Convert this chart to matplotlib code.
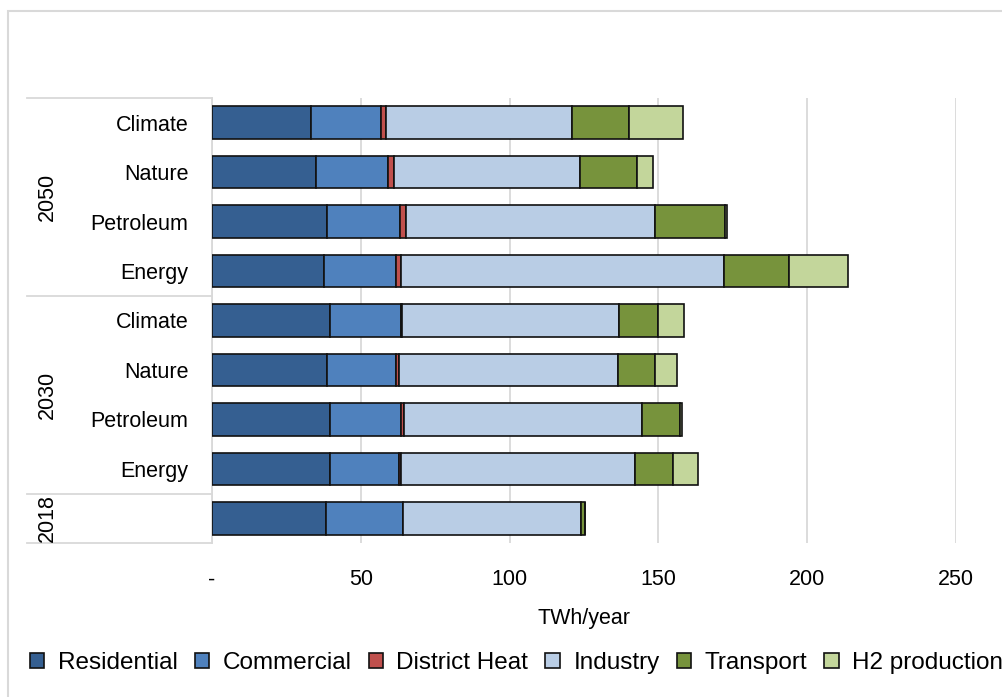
import numpy as np
import matplotlib
matplotlib.use('Agg')
import matplotlib.pyplot as plt
import matplotlib.transforms as mtransforms
from matplotlib.patches import Rectangle
from matplotlib.ticker import FuncFormatter

plt.rcParams['font.family'] = ['Liberation Sans', 'DejaVu Sans']

# rows from top to bottom
scenarios = ['Climate', 'Nature', 'Petroleum', 'Energy',
             'Climate', 'Nature', 'Petroleum', 'Energy', '']
years = ['2050', '2030', '2018']
year_rows = [(0, 3), (4, 7), (8, 8)]

sectors = ['Residential', 'Commercial', 'District Heat', 'Industry',
           'Transport', 'H2 production']
residential = [33.2, 35.0, 38.6, 37.5, 39.5, 38.7, 39.5, 39.5, 38.2]
commercial = [23.6, 24.2, 24.7, 24.2, 24.0, 23.0, 24.0, 23.5, 25.9]
district_heat = [1.8, 1.8, 2.0, 1.9, 0.4, 1.2, 1.1, 0.4, 0.1]
industry = [62.5, 62.5, 83.6, 108.6, 73.0, 73.6, 79.8, 78.7, 59.7]
transport = [19.1, 19.2, 23.6, 21.8, 13.0, 12.4, 12.9, 12.9, 1.5]
h2_production = [17.9, 5.6, 0.5, 19.7, 8.8, 7.4, 0.5, 8.2, 0.0]

series = [residential, commercial, district_heat, industry, transport, h2_production]
colors = ['#355f91', '#4f81bd', '#c0504d', '#b9cde5', '#77933c', '#c3d69b']

W, H = 1003, 697
fig = plt.figure(figsize=(W / 100, H / 100), dpi=100)
ax = fig.add_axes([212 / W, 1 - 543 / H, (956 - 212) / W, (543 - 98) / H])

y = np.arange(len(scenarios))
left = np.zeros(len(scenarios))
for name, vals, c in zip(sectors, series, colors):
    vals = np.array(vals)
    ax.barh(y, vals, left=left, height=0.66, color=c, edgecolor='#111111',
            linewidth=1.2, label=name, zorder=3)
    left += vals

ax.set_xlim(0, 250)
ax.set_ylim(len(scenarios) - 0.5, -0.5)
ax.set_xticks([0, 50, 100, 150, 200, 250])
ax.xaxis.set_major_formatter(FuncFormatter(lambda v, p: '-' if v == 0 else '%d' % v))
ax.grid(axis='x', color='#d9d9d9', linewidth=1.3, zorder=0)
ax.set_axisbelow(True)
for s in ['top', 'right', 'bottom']:
    ax.spines[s].set_visible(False)
ax.spines['left'].set_color('#d9d9d9')
ax.spines['left'].set_linewidth(1.3)

ax.set_yticks(y)
ax.set_yticklabels(scenarios)
ax.tick_params(axis='y', length=0, pad=17, labelsize=15.5)
ax.tick_params(axis='x', length=0, pad=19, labelsize=15.5)
ax.set_xlabel('TWh/year', fontsize=15.5, labelpad=13)

# multi level category axis
trans = mtransforms.blended_transform_factory(ax.transAxes, ax.transData)
x_line = (27 - 212) / (956 - 212)
x_year = (47 - 212) / (956 - 212)
for b in [-0.5, 3.5, 7.5, 8.5]:
    ax.plot([x_line, 0], [b, b], color='#d9d9d9', linewidth=1.3,
            transform=trans, clip_on=False)
for yr, (r0, r1) in zip(years, year_rows):
    ax.text(x_year, (r0 + r1) / 2, yr, rotation=90, ha='center', va='center',
            fontsize=15.5, transform=trans)

fig.legend(loc='center left', bbox_to_anchor=(20 / W, 1 - 663 / H), ncol=6,
           frameon=False, fontsize=17.5, handlelength=0.6, handleheight=0.6,
           handletextpad=0.55, columnspacing=0.7, borderaxespad=0)

fig.add_artist(Rectangle((8 / W, -0.1), 1.2, 1.1 - 11 / H, fill=False,
                         edgecolor='#d9d9d9', linewidth=1.5,
                         transform=fig.transFigure))

fig.savefig('out.png', dpi=100)
